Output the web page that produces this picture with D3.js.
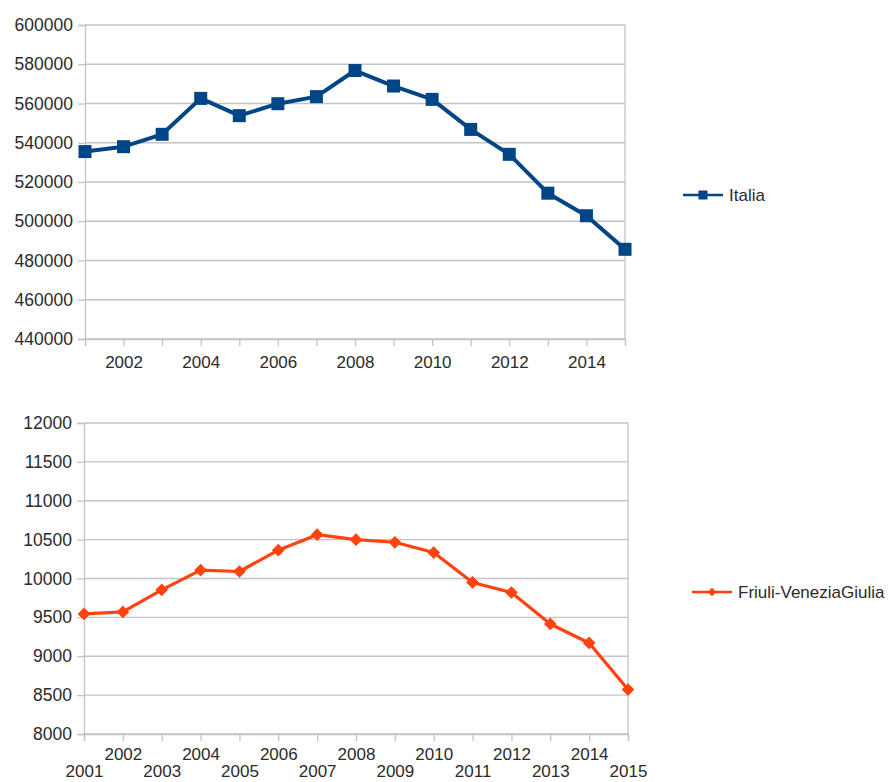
<!DOCTYPE html>
<html>
<head>
<meta charset="utf-8">
<script src="https://cdn.jsdelivr.net/npm/d3@7"></script>
<style>
  body { margin: 0; background: #fff; }
  svg text { font-family: "Liberation Sans", Arial, sans-serif; fill: #2b2b2b; }
</style>
</head>
<body>
<div id="chart"></div>
<script>
// data
const years = [2001, 2002, 2003, 2004, 2005, 2006, 2007, 2008, 2009, 2010, 2011, 2012, 2013, 2014, 2015];
const italia = [535500, 538000, 544300, 562600, 553800, 559900, 563500, 576800, 568900, 562100, 546800, 534100, 514300, 502800, 485700];
const friuli = [9545, 9570, 9854, 10107, 10090, 10364, 10564, 10500, 10466, 10334, 9949, 9820, 9415, 9171, 8572];
const italiaTicks = [440000, 460000, 480000, 500000, 520000, 540000, 560000, 580000, 600000];
const friuliTicks = [8000, 8500, 9000, 9500, 10000, 10500, 11000, 11500, 12000];
const seriesNames = ["Italia", "Friuli-VeneziaGiulia"];

const width = 891, height = 782;
const blue = "#004586", orange = "#ff420e", grid = "#c3c3c3";

const svg = d3.select("#chart").append("svg")
  .attr("width", width)
  .attr("height", height);

function panel(cfg) {
  const x = d3.scaleLinear().domain([2001, 2015]).range([cfg.left, cfg.right]);
  const y = d3.scaleLinear().domain(d3.extent(cfg.ticks)).range([cfg.bottom, cfg.top]);
  const g = svg.append("g");

  // gridlines
  g.selectAll(".grid")
    .data(cfg.ticks)
    .enter().append("line")
    .attr("x1", cfg.left).attr("x2", cfg.right)
    .attr("y1", d => y(d)).attr("y2", d => y(d))
    .attr("stroke", grid).attr("stroke-width", 1.3);

  // right border
  g.append("line")
    .attr("x1", cfg.right).attr("x2", cfg.right)
    .attr("y1", cfg.top).attr("y2", cfg.bottom)
    .attr("stroke", grid).attr("stroke-width", 1.3);

  const yAxis = g.append("g")
    .attr("transform", `translate(${cfg.left},0)`)
    .call(d3.axisLeft(y).tickValues(cfg.ticks).tickSize(7).tickPadding(5).tickFormat(d3.format("d")));
  yAxis.selectAll("line").attr("stroke", grid).attr("stroke-width", 1.3);
  yAxis.select(".domain").attr("stroke", grid).attr("stroke-width", 1.3);
  yAxis.selectAll("text").style("font-size", "17.5px").style("fill", "#2b2b2b");

  const xAxis = g.append("g")
    .attr("transform", `translate(0,${cfg.bottom})`)
    .call(d3.axisBottom(x).tickValues(years).tickSize(7).tickFormat(d3.format("d")));
  xAxis.selectAll("line").attr("stroke", grid).attr("stroke-width", 1.3);
  xAxis.select(".domain").attr("stroke", grid).attr("stroke-width", 1.3);
  xAxis.selectAll("text")
    .style("font-size", "17px").style("fill", "#2b2b2b")
    .text(d => (cfg.oddLabels || d % 2 == 0) ? d : "")
    .attr("y", d => (d % 2 == 0) ? cfg.labelY1 : cfg.labelY2)
    .attr("dy", "0.35em");

  const line = d3.line().x((d, i) => x(years[i])).y(d => y(d));
  g.append("path")
    .datum(cfg.values)
    .attr("fill", "none")
    .attr("stroke", cfg.color)
    .attr("stroke-width", cfg.lineWidth)
    .attr("stroke-linejoin", "round")
    .attr("d", line);

  const pts = g.selectAll(".pt")
    .data(cfg.values)
    .enter().append("g")
    .attr("transform", (d, i) => `translate(${x(years[i])},${y(d)})`);
  cfg.marker(pts);

  // legend
  const lg = svg.append("g").attr("transform", `translate(${cfg.legendX},${cfg.legendY})`);
  lg.append("line").attr("x1", 0).attr("x2", 40).attr("y1", 0).attr("y2", 0)
    .attr("stroke", cfg.color).attr("stroke-width", 2.5);
  cfg.legendMarker(lg.append("g").attr("transform", "translate(20,0)"));
  lg.append("text").attr("x", 46).attr("y", 0).attr("dy", "0.35em")
    .style("font-size", "17px").style("fill", "#2b2b2b")
    .text(cfg.name);
}

panel({
  left: 85, right: 625, top: 25, bottom: 339,
  ticks: italiaTicks, values: italia, color: blue, lineWidth: 4,
  labelY1: 23, labelY2: 23, oddLabels: false,
  name: seriesNames[0], legendX: 683, legendY: 195,
  marker: sel => sel.append("rect").attr("x", -6.5).attr("y", -6.5).attr("width", 13).attr("height", 13).attr("fill", blue),
  legendMarker: sel => sel.append("rect").attr("x", -4.5).attr("y", -4.5).attr("width", 9).attr("height", 9).attr("fill", blue)
});

panel({
  left: 84, right: 628, top: 423, bottom: 734,
  ticks: friuliTicks, values: friuli, color: orange, lineWidth: 3.2,
  labelY1: 20, labelY2: 37, oddLabels: true,
  name: seriesNames[1], legendX: 692, legendY: 592,
  marker: sel => sel.append("rect").attr("x", -4.5).attr("y", -4.5).attr("width", 9).attr("height", 9)
    .attr("transform", "rotate(45)").attr("fill", orange),
  legendMarker: sel => sel.append("rect").attr("x", -3).attr("y", -3).attr("width", 6).attr("height", 6)
    .attr("transform", "rotate(45)").attr("fill", orange)
});
</script>
</body>
</html>
